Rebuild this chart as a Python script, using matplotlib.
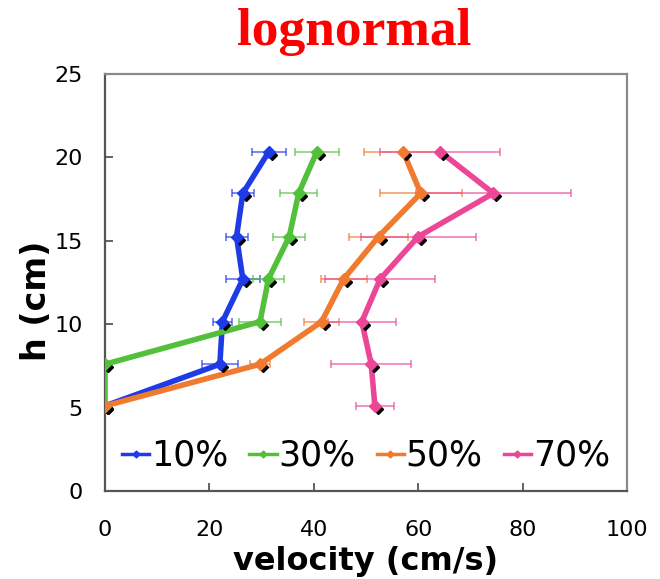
import numpy as np
import matplotlib
matplotlib.use("Agg")
import matplotlib.pyplot as plt
from matplotlib.transforms import offset_copy

# Données
h = [20.35, 17.85, 15.25, 12.7, 10.15, 7.6, 5.1]
labels = ["10%", "30%", "50%", "70%"]
colors = ["#1f3be6", "#52c03a", "#f07a2e", "#ec4797"]

v10 = [31.4, 26.4, 25.2, 26.4, 22.5, 22.0, 0.0]
e10 = [3.3, 2.1, 2.1, 3.3, 1.9, 3.4, 0.0]
v30 = [40.6, 37.1, 35.3, 31.3, 29.7, 0.0, 0.0]
e30 = [4.2, 3.6, 3.1, 2.9, 4.0, 0.0, 0.0]
v50 = [57.1, 60.5, 52.4, 45.7, 41.5, 29.7, 0.0]
e50 = [7.5, 7.9, 5.7, 4.4, 3.4, 1.9, 0.0]
v70 = [64.2, 74.4, 60.0, 52.7, 49.2, 51.0, 51.7]
e70 = [11.5, 14.8, 11.0, 10.5, 6.5, 7.7, 3.7]

xticks = [0, 20, 40, 60, 80, 100]
yticks = [0, 5, 10, 15, 20, 25]

fig = plt.figure(figsize=(6.6, 5.79), dpi=100)
ax = fig.add_axes([105/660, 1-491/579, (627-105)/660, (491-74)/579])

# ombre noire des marqueurs, décalée de quelques pixels
shadow = offset_copy(ax.transData, fig=fig, x=3, y=-3, units='dots')

series = [(v10, e10), (v30, e30), (v50, e50), (v70, e70)]
for (v, e), c, lab in zip(series, colors, labels):
    v = np.array(v)
    e = np.array(e)
    m = e > 0
    ax.errorbar(v[m], np.array(h)[m], xerr=e[m], fmt='none', ecolor=c,
                elinewidth=1.2, capsize=3, capthick=1.2, alpha=0.7, zorder=2)
    ax.plot(v, h, color=c, lw=4, solid_joinstyle='round', zorder=3)
    ax.plot(v, h, 'D', color='black', ms=5, transform=shadow, zorder=4)
    ax.plot(v, h, 'D', color=c, ms=6, zorder=5)
    ax.plot([], [], color=c, lw=2.5, marker='D', ms=3.5, label=lab)

ax.set_xlim(0, 100)
ax.set_ylim(0, 25)
ax.set_xticks(xticks)
ax.set_yticks(yticks)
ax.tick_params(direction='in', length=6, width=1.3, color='#555555',
               labelsize=16, top=False, right=False)
ax.tick_params(axis='x', pad=21)
ax.tick_params(axis='y', pad=16)

for s in ['left', 'bottom']:
    ax.spines[s].set_color('#555555')
    ax.spines[s].set_linewidth(1.6)
for s in ['top', 'right']:
    ax.spines[s].set_color('#8a8a8a')
    ax.spines[s].set_linewidth(1.6)

ax.set_xlabel("velocity (cm/s)", fontsize=23, fontweight='bold')
ax.xaxis.set_label_coords(0.5, -0.132)
ax.set_ylabel("h (cm)", fontsize=24, fontweight='bold')
ax.yaxis.set_label_coords(-0.10, 0.456)

handles, labs = ax.get_legend_handles_labels()
ax.legend(handles, labs, loc='center', ncol=4, frameon=False,
          fontsize=25, handlelength=0.78, handletextpad=0.06, columnspacing=0.6,
          bbox_to_anchor=(0.5, 0.084), borderaxespad=0, borderpad=0)

fig.text(354/660, 1-45/579, "lognormal", color='red', fontsize=38.5,
         fontweight='bold', family='Liberation Serif', ha='center', va='baseline')

fig.savefig("out.png", dpi=100)
